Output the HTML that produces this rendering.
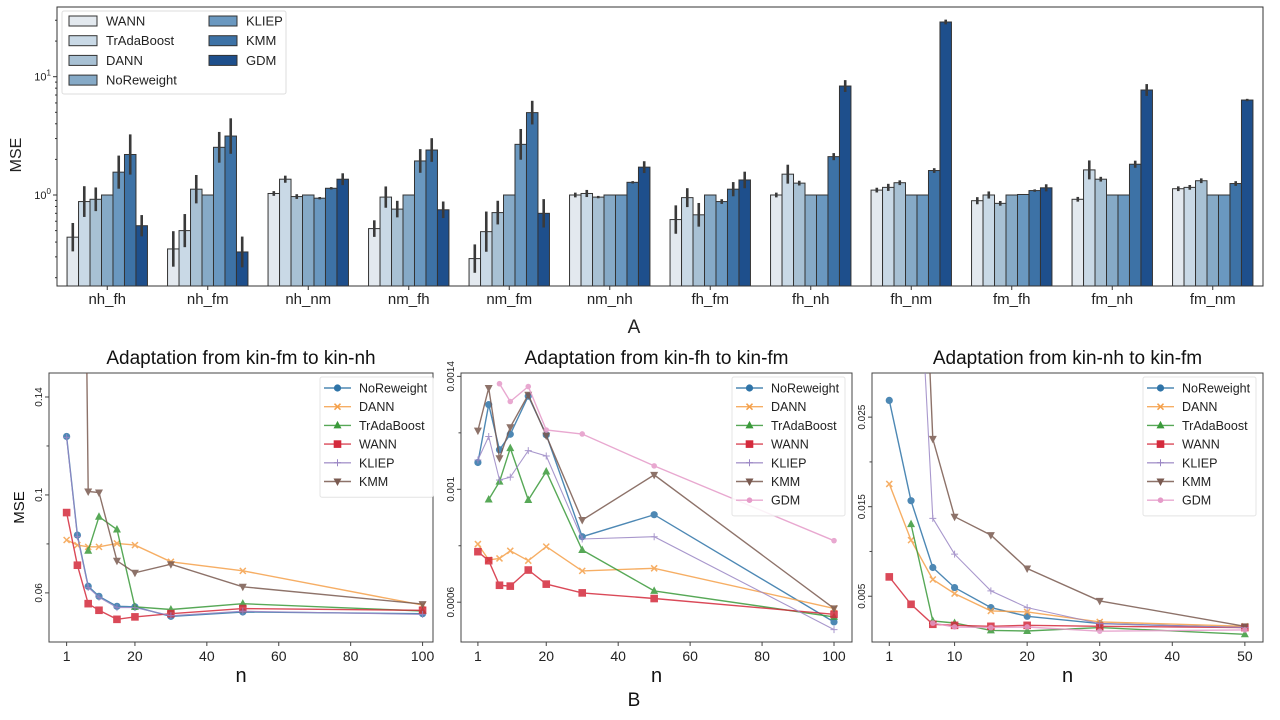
<!DOCTYPE html>
<html><head><meta charset="utf-8"><style>
html,body{margin:0;padding:0;background:#fff;}
svg{display:block;font-family:"Liberation Sans","DejaVu Sans",sans-serif;}
</style></head><body>
<svg id="fig" width="1280" height="720" viewBox="0 0 1280 720" xmlns="http://www.w3.org/2000/svg">
<defs>
<clipPath id="c1"><rect x="49" y="373" width="384" height="269"/></clipPath>
<clipPath id="c2"><rect x="461" y="373" width="391" height="269"/></clipPath>
<clipPath id="c3"><rect x="872" y="373" width="391" height="269"/></clipPath>
</defs>
<g id="top"></g>
<g id="p1"></g>
<g id="p2"></g>
<g id="p3"></g>
</svg>
<script>
// ---------- Top bar chart data ----------
const groups = ["nh_fh","nh_fm","nh_nm","nm_fh","nm_fm","nm_nh","fh_fm","fh_nh","fh_nm","fm_fh","fm_nh","fm_nm"];
const methods = ["WANN","TrAdaBoost","DANN","NoReweight","KLIEP","KMM","GDM"];
const wannVals = [0.44,0.35,1.03,0.52,0.29,1.0,0.62,1.0,1.10,0.895,0.92,1.13];
const tradaVals = [0.88,0.50,1.36,0.96,0.49,1.03,0.95,1.50,1.16,1.0,1.63,1.16];
const dannVals = [0.92,1.12,0.97,0.76,0.71,0.96,0.68,1.26,1.27,0.85,1.36,1.32];
const norwVals = [1,1,1,1,1,1,1,1,1,1,1,1];
const kliepVals = [1.56,2.53,0.94,1.94,2.68,1.0,0.88,1.0,1.0,1.01,1.0,1.0];
const kmmVals = [2.2,3.15,1.14,2.4,4.97,1.28,1.12,2.11,1.61,1.09,1.82,1.25];
const gdmVals = [0.55,0.33,1.36,0.75,0.70,1.72,1.34,8.34,29,1.15,7.72,6.35];
const wannErr = [0.12,0.15,0.02,0.07,0.12,0.02,0.12,0.02,0.02,0.03,0.02,0.02];
const tradaErr = [0.13,0.14,0.03,0.09,0.17,0.03,0.08,0.08,0.03,0.03,0.08,0.02];
const dannErr = [0.10,0.12,0.02,0.07,0.10,0.01,0.10,0.02,0.02,0.02,0.02,0.02];
const norwErr = [0,0,0,0,0,0,0,0,0,0,0,0];
const kliepErr = [0.14,0.13,0.01,0.10,0.13,0,0.02,0,0,0,0,0];
const kmmErr = [0.17,0.15,0.01,0.10,0.10,0.01,0.06,0.03,0.02,0.01,0.03,0.02];
const gdmErr = [0.09,0.13,0.05,0.07,0.12,0.05,0.07,0.05,0.02,0.03,0.05,0.01];
const barColors = ["#e3e9ef","#c9d9e6","#a8c1d4","#86aac7","#6a98c0","#3d72a6","#1e4f8c"];
const yTickVals = [1,10];
const yTickLabels = ["10\u2070","10\u00b9"];

// ---------- Line panels data ----------
const nA = [1,4,7,10,15,20,30,50,100];
const p1NoRe = [0.1239,0.0836,0.0627,0.0586,0.0545,0.0543,0.0504,0.0522,0.0515];
const p1Dann = [0.0816,0.0795,0.0788,0.0788,0.0802,0.0795,0.0727,0.069,0.055];
const p1Trada = [null,null,0.0772,0.0911,0.0859,0.0543,0.0532,0.0556,0.0526];
const p1Wann = [0.0928,0.0713,0.0556,0.0529,0.0492,0.0502,0.0515,0.0536,0.0529];
const p1Kliep = [0.1235,0.0830,0.0622,0.0582,0.0540,0.0540,0.0507,0.0525,0.0512];
const p1Kmm = [null,0.5,0.1014,0.101,0.0731,0.0682,0.0717,0.0625,0.0554];
const p1Ticks = [0.06,0.1,0.14];
const p1TickLabels = ["0.06","0.1","0.14"];
const p1Minor = [0.08,0.12];
const p1X = [1,20,40,60,80,100];

const p2NoRe = [0.001095,0.0013,0.00114,0.001195,0.00133,0.001193,0.000832,0.00091,0.00053];
const p2Dann = [0.000806,0.00075,0.000755,0.000782,0.000747,0.000797,0.000711,0.00072,0.000578];
const p2Trada = [null,0.000964,0.001027,0.001146,0.000962,0.001063,0.000785,0.00064,0.000548];
const p2Wann = [0.000779,0.000747,0.00066,0.000657,0.000714,0.000664,0.000633,0.000613,0.000557];
const p2Kliep = [0.001104,0.001187,0.001033,0.001043,0.001137,0.001118,0.000824,0.000832,0.000503];
const p2Kmm = [0.001208,0.001359,0.00111,0.00122,0.001335,0.00119,0.000891,0.001051,0.000578];
const p2Gdm = [null,null,0.001374,0.001311,0.001364,0.00121,0.001196,0.001083,0.000818];
const p2Ticks = [0.0006,0.001,0.0014];
const p2TickLabels = ["0.0006","0.001","0.0014"];
const p2Minor = [0.0008,0.0012];
const p2X = [1,20,40,60,80,100];

const nC = [1,4,7,10,15,20,30,50];
const p3NoRe = [0.02687,0.01567,0.00821,0.00597,0.00373,0.00276,0.00194,0.0015];
const p3Dann = [0.01754,0.01127,0.00687,0.0053,0.00336,0.00325,0.00213,0.00164];
const p3Trada = [null,0.01306,0.00224,0.00201,0.00119,0.00112,0.0015,0.00075];
const p3Wann = [0.00716,0.0041,0.00187,0.00175,0.00164,0.00175,0.00164,0.0015];
const p3Kliep = [null,0.06,0.0137,0.0097,0.0056,0.00373,0.00194,0.0015];
const p3Kmm = [null,0.08,0.02257,0.01388,0.01183,0.0081,0.00448,0.00164];
const p3Gdm = [null,null,0.0020,0.00157,0.0015,0.00157,0.0011,0.00124];
const p3Ticks = [0.005,0.015,0.025];
const p3TickLabels = ["0.005","0.015","0.025"];
const p3Minor = [0.01,0.02];
const p3X = [1,10,20,30,40,50];

const NS="http://www.w3.org/2000/svg";
function mk(parent,tag,attrs,text){
  const e=document.createElementNS(NS,tag);
  for(const k in attrs) e.setAttribute(k,attrs[k]);
  if(text!==undefined) e.textContent=text;
  parent.appendChild(e); return e;
}

// ---------- Top chart ----------
(function(){
  const g=document.getElementById('top');
  const L=57,R=1263,T=7,B=286;
  const y0=195, dec=118.3;
  const yS=v=>y0-Math.log10(v)*dec;
  const gw=(R-L)/groups.length;
  const xC=i=>L+gw*(i+0.5);
  const bw=gw*0.8/7;
  const vals=[wannVals,tradaVals,dannVals,norwVals,kliepVals,kmmVals,gdmVals];
  const errs=[wannErr,tradaErr,dannErr,norwErr,kliepErr,kmmErr,gdmErr];
  // axes frame
  const fr=mk(g,'rect',{x:L,y:T,width:R-L,height:B-T,fill:'none',stroke:'#333','stroke-width':1});
  
  
  // minor ticks
  for(let d=-1;d<=1;d++){for(let m=2;m<=9;m++){const v=m*Math.pow(10,d);const y=yS(v);if(y>T&&y<B){const t=mk(g,'line',{x1:L-2,x2:L,y1:y,y2:y,stroke:'#333'});}}}
  yTickVals.forEach((v,i)=>{const y=yS(v);
    const t=mk(g,'line',{x1:L-4,x2:L,y1:y,y2:y,stroke:'#333'});
    
    
    const tx=mk(g,'text',{x:L-6,y:y+4,'font-size':11,'text-anchor':'end',fill:'#222'},'10');
    tx.textContent='';
    const a=mk(tx,'tspan',{},'10');
    const b=mk(tx,'tspan',{dy:-5,'font-size':8},i===0?'0':'1');
    
    
  });
  groups.forEach((gn,gi)=>{
    vals.forEach((arr,mi)=>{
      const x=xC(gi)-gw*0.4+mi*bw;const y=yS(arr[gi]);
      const r=mk(g,'rect',{x:x,y:y,width:bw,height:B-y,fill:barColors[mi],stroke:'#333','stroke-width':1});
      
      
      const e=errs[mi][gi];
      if(e>0){const cx=x+bw/2;const l=mk(g,'line',{x1:cx,x2:cx,y1:yS(arr[gi]*Math.pow(10,e)),y2:yS(arr[gi]/Math.pow(10,e)),stroke:'#3a3a3a','stroke-width':2.6});
        
        }
    });
    const t=mk(g,'line',{x1:xC(gi),x2:xC(gi),y1:B,y2:B+4,stroke:'#333'});
    
    
    const tl=mk(g,'text',{x:xC(gi),y:B+18,'font-size':15,'text-anchor':'middle',fill:'#222'},gn);
    
    
  });
  const yl=mk(g,'text',{x:0,y:0,'font-size':16,'text-anchor':'middle',fill:'#222',transform:'translate(21,155) rotate(-90)'},'MSE');
  
  
  const A=mk(g,'text',{x:634,y:333,'font-size':19,'text-anchor':'middle',fill:'#222'},'A');
  
  
  // legend
  const lg=mk(g,'g',{});
  
  
  mk(lg,'rect',{x:62,y:11,width:224,height:83,fill:'#fff','fill-opacity':0.85,stroke:'#ddd',rx:2});
  methods.forEach((m,i)=>{
    const col=i<4?0:1,row=i<4?i:i-4;
    const px=col?209:69,py=20+row*19.7;
    const ent=mk(lg,'g',{});
    
    
    mk(ent,'rect',{x:px,y:py-4,width:28,height:10,fill:barColors[i],stroke:'#333'});
    mk(ent,'text',{x:px+37,y:py+5.5,'font-size':13,fill:'#222'},m);
  });
})();

// ---------- Line panels ----------
const lineStyles={
  NoReweight:{c:'#2f74a8',m:'o'},DANN:{c:'#f5a04a',m:'x'},TrAdaBoost:{c:'#3a9a3a',m:'^'},
  WANN:{c:'#d42a3c',m:'s'},KLIEP:{c:'#9a86c4',m:'+'},KMM:{c:'#7a5a50',m:'v'},GDM:{c:'#e59ac8',m:'o2'}
};
function marker(g,m,x,y,c){
  let e;
  if(m==='o') e=mk(g,'circle',{cx:x,cy:y,r:3.6,fill:c});
  else if(m==='o2') e=mk(g,'circle',{cx:x,cy:y,r:2.8,fill:c});
  else if(m==='s') e=mk(g,'rect',{x:x-3.8,y:y-3.8,width:7.6,height:7.6,fill:c});
  else if(m==='^') e=mk(g,'polygon',{points:`${x},${y-4.5} ${x-4},${y+3} ${x+4},${y+3}`,fill:c});
  else if(m==='v') e=mk(g,'polygon',{points:`${x},${y+4.5} ${x-4},${y-3} ${x+4},${y-3}`,fill:c});
  else if(m==='x') e=mk(g,'path',{d:`M${x-3},${y-3}L${x+3},${y+3}M${x-3},${y+3}L${x+3},${y-3}`,stroke:c,'stroke-width':1.5});
  else e=mk(g,'path',{d:`M${x-3.5},${y}L${x+3.5},${y}M${x},${y-3.5}L${x},${y+3.5}`,stroke:c,'stroke-width':1});
  return e;
}
function panel(id,cfg){
  const g=document.getElementById(id);
  const {L,R,T,B,xmin,xmax,ymin,ymax,ns,series,ticks,tickLabels,minor,xt,title,clip,showMSE}=cfg;
  const xS=v=>L+(v-xmin)/(xmax-xmin)*(R-L);
  const yS=v=>B-(v-ymin)/(ymax-ymin)*(B-T);
  const fr=mk(g,'rect',{x:L,y:T,width:R-L,height:B-T,fill:'none',stroke:'#444'});
  
  
  const tt=mk(g,'text',{x:(L+R)/2,y:T-9,'font-size':19,'text-anchor':'middle',fill:'#111'},title);
  
  
  ticks.forEach((v,i)=>{const y=yS(v);
    const t=mk(g,'line',{x1:L-4,x2:L,y1:y,y2:y,stroke:'#444'});
    
    
    const tl=mk(g,'text',{x:0,y:0,'font-size':10,'text-anchor':'middle',fill:'#222',transform:`translate(${L-7},${y}) rotate(-90)`},tickLabels[i]);
    
    
  });
  minor.forEach(v=>{const y=yS(v);
    const t=mk(g,'line',{x1:L-2.5,x2:L,y1:y,y2:y,stroke:'#444'});
    
    });
  xt.forEach(v=>{const x=xS(v);
    const t=mk(g,'line',{x1:x,x2:x,y1:B,y2:B+4,stroke:'#444'});
    
    
    const tl=mk(g,'text',{x:x,y:B+19,'font-size':14,'text-anchor':'middle',fill:'#222'},String(v));
    
    
  });
  const xl=mk(g,'text',{x:(L+R)/2,y:B+40,'font-size':20,'text-anchor':'middle',fill:'#111'},'n');
  
  
  if(showMSE){const yl=mk(g,'text',{x:0,y:0,'font-size':15,'text-anchor':'middle',fill:'#111',transform:`translate(${L-25},${(T+B)/2}) rotate(-90)`},'MSE');
    
    }
  const cg=mk(g,'g',{'clip-path':`url(#${clip})`});
  series.forEach(s=>{
    const st=lineStyles[s.name];
    const sg=mk(cg,'g',{opacity:0.85});
    
    
    let d='';
    s.vals.forEach((v,i)=>{if(v===null)return;d+=(d?'L':'M')+xS(ns[i]).toFixed(1)+','+yS(v).toFixed(1);});
    mk(sg,'path',{d:d,fill:'none',stroke:st.c,'stroke-width':s.name==='KLIEP'?1.1:1.4});
    s.vals.forEach((v,i)=>{if(v===null)return;const p=marker(sg,st.m,xS(ns[i]),yS(v),st.c);
      
      });
  });
  // legend
  const lx=cfg.lx,lw=113,rh=18.7;
  const lg=mk(g,'g',{});
  
  
  mk(lg,'rect',{x:lx,y:T+4,width:lw,height:series.length*rh+8,fill:'#fff','fill-opacity':0.85,stroke:'#e4e4e4',rx:2});
  series.forEach((s,i)=>{const st=lineStyles[s.name];const y=T+15+i*rh;
    const ent=mk(lg,'g',{});
    
    
    mk(ent,'line',{x1:lx+4,x2:lx+31,y1:y,y2:y,stroke:st.c,'stroke-width':1.4,opacity:0.85});
    marker(ent,st.m,lx+17.5,y,st.c);
    mk(ent,'text',{x:lx+39,y:y+4.5,'font-size':12.5,fill:'#222'},s.name);
  });
}
panel('p1',{L:49,R:433,T:373,B:642,xmin:-3.9,xmax:102.9,ymin:0.03994,ymax:0.1498,ns:nA,clip:'c1',showMSE:true,lx:320,
  title:'Adaptation from kin-fm to kin-nh',ticks:p1Ticks,tickLabels:p1TickLabels,minor:p1Minor,xt:p1X,
  series:[{name:'NoReweight',vals:p1NoRe},{name:'DANN',vals:p1Dann},{name:'TrAdaBoost',vals:p1Trada},{name:'WANN',vals:p1Wann},{name:'KLIEP',vals:p1Kliep},{name:'KMM',vals:p1Kmm}]});
panel('p2',{L:461,R:852,T:373,B:642,xmin:-3.7,xmax:105,ymin:0.000459,ymax:0.001412,ns:nA,clip:'c2',showMSE:false,lx:732,
  title:'Adaptation from kin-fh to kin-fm',ticks:p2Ticks,tickLabels:p2TickLabels,minor:p2Minor,xt:p2X,
  series:[{name:'NoReweight',vals:p2NoRe},{name:'DANN',vals:p2Dann},{name:'TrAdaBoost',vals:p2Trada},{name:'WANN',vals:p2Wann},{name:'KLIEP',vals:p2Kliep},{name:'KMM',vals:p2Kmm},{name:'GDM',vals:p2Gdm}]});
panel('p3',{L:872,R:1263,T:373,B:642,xmin:-1.38,xmax:52.5,ymin:-0.00011,ymax:0.02993,ns:nC,clip:'c3',showMSE:false,lx:1143,
  title:'Adaptation from kin-nh to kin-fm',ticks:p3Ticks,tickLabels:p3TickLabels,minor:p3Minor,xt:p3X,
  series:[{name:'NoReweight',vals:p3NoRe},{name:'DANN',vals:p3Dann},{name:'TrAdaBoost',vals:p3Trada},{name:'WANN',vals:p3Wann},{name:'KLIEP',vals:p3Kliep},{name:'KMM',vals:p3Kmm},{name:'GDM',vals:p3Gdm}]});
const Bl=mk(document.getElementById('fig'),'text',{x:634,y:706,'font-size':19,'text-anchor':'middle',fill:'#111'},'B');


</script>
</body></html>
